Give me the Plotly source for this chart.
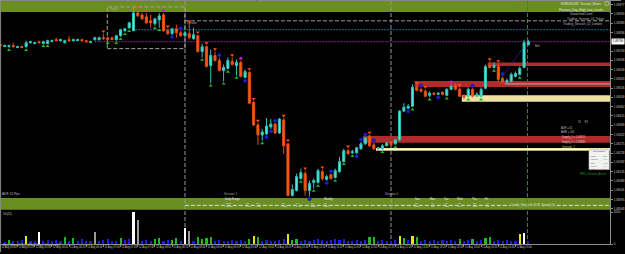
import plotly.graph_objects as go

W, H = 625, 254

# ---------------- data (MT4 points: price = points / 100000) ----------------
candle_idx = list(range(124))
open_pts = [
    109775, 109765, 109765, 109770, 109760, 109765, 109765, 109785, 109780, 109790,
    109780, 109780, 109790, 109800, 109795, 109785, 109800, 109795, 109795, 109800,
    109795, 109785, 109800, 109800, 109810, 109810, 109810, 109800, 109820, 109845,
    109860, 109845, 109935, 109925, 109915, 109895, 109880, 109900, 109925, 109845,
    109830, 109855, 109835, 109820, 109830, 109805, 109820, 109740, 109765, 109670,
    109720, 109695, 109645, 109655, 109690, 109670, 109685, 109610, 109635, 109485,
    109370, 109320, 109325, 109360, 109375, 109330, 109395, 109275, 109015, 109040,
    109100, 109125, 109040, 109080, 109080, 109135, 109095, 109120, 109105, 109135,
    109185, 109240, 109230, 109230, 109250, 109275, 109315, 109270, 109250, 109250,
    109265, 109285, 109275, 109295, 109440, 109455, 109465, 109560, 109550, 109540,
    109520, 109530, 109525, 109535, 109520, 109550, 109570, 109550, 109520, 109515,
    109550, 109515, 109515, 109555, 109670, 109660, 109665, 109605, 109585, 109590,
    109615, 109625, 109660, 109775]
high_pts = [
    109780, 109775, 109775, 109785, 109770, 109770, 109795, 109795, 109790, 109795,
    109795, 109800, 109800, 109810, 109805, 109800, 109820, 109805, 109805, 109805,
    109795, 109795, 109815, 109815, 109830, 109815, 109815, 109825, 109855, 109860,
    109890, 109965, 109955, 109935, 109935, 109925, 109910, 109935, 109935, 109855,
    109860, 109875, 109845, 109840, 109880, 109860, 109825, 109780, 109770, 109750,
    109740, 109710, 109675, 109710, 109710, 109700, 109695, 109650, 109640, 109490,
    109380, 109350, 109405, 109400, 109380, 109405, 109405, 109280, 109070, 109125,
    109150, 109140, 109090, 109100, 109150, 109145, 109120, 109125, 109150, 109210,
    109250, 109250, 109245, 109260, 109285, 109310, 109320, 109280, 109255, 109275,
    109285, 109290, 109300, 109445, 109480, 109475, 109575, 109570, 109555, 109550,
    109540, 109535, 109535, 109540, 109555, 109575, 109580, 109560, 109525, 109560,
    109555, 109535, 109560, 109675, 109690, 109685, 109680, 109615, 109605, 109635,
    109640, 109665, 109800, 109800]
low_pts = [
    109765, 109765, 109760, 109760, 109760, 109760, 109760, 109780, 109780, 109780,
    109780, 109780, 109790, 109795, 109790, 109780, 109790, 109790, 109795, 109790,
    109785, 109785, 109795, 109795, 109800, 109795, 109800, 109795, 109815, 109840,
    109855, 109845, 109915, 109900, 109880, 109860, 109870, 109860, 109840, 109825,
    109825, 109810, 109815, 109815, 109805, 109800, 109735, 109710, 109660, 109580,
    109690, 109640, 109590, 109650, 109670, 109620, 109610, 109605, 109475, 109365,
    109270, 109290, 109320, 109350, 109325, 109325, 109225, 109010, 109010, 109035,
    109095, 109015, 109010, 109050, 109075, 109090, 109090, 109095, 109100, 109130,
    109185, 109220, 109225, 109225, 109245, 109270, 109260, 109245, 109245, 109245,
    109265, 109265, 109270, 109290, 109435, 109450, 109460, 109540, 109535, 109510,
    109510, 109520, 109520, 109520, 109515, 109545, 109545, 109510, 109500, 109510,
    109510, 109510, 109510, 109550, 109655, 109655, 109590, 109580, 109580, 109585,
    109610, 109620, 109655, 109770]
close_pts = [
    109770, 109770, 109770, 109765, 109765, 109760, 109785, 109790, 109785, 109785,
    109790, 109795, 109795, 109795, 109800, 109795, 109795, 109800, 109800, 109795,
    109790, 109790, 109810, 109810, 109805, 109800, 109800, 109820, 109850, 109855,
    109885, 109935, 109920, 109905, 109885, 109885, 109905, 109920, 109845, 109830,
    109855, 109835, 109820, 109835, 109810, 109825, 109740, 109765, 109665, 109720,
    109695, 109645, 109660, 109695, 109675, 109685, 109615, 109640, 109480, 109370,
    109320, 109335, 109365, 109375, 109330, 109400, 109265, 109015, 109045, 109110,
    109130, 109040, 109075, 109090, 109140, 109100, 109110, 109100, 109140, 109185,
    109240, 109225, 109235, 109255, 109275, 109305, 109265, 109250, 109255, 109265,
    109280, 109270, 109295, 109440, 109460, 109465, 109560, 109545, 109540, 109515,
    109530, 109525, 109530, 109525, 109550, 109565, 109550, 109515, 109510, 109550,
    109515, 109525, 109550, 109665, 109660, 109670, 109600, 109585, 109595, 109625,
    109630, 109655, 109785, 109790]

volume = [
    300, 200, 400, 300, 300, 400, 800, 300, 300, 1200,
    300, 400, 300, 400, 300, 700, 300, 600, 300, 500,
    300, 300, 1200, 300, 400, 500, 300, 300, 600, 400,
    500, 3200, 2400, 300, 400, 300, 500, 600, 300, 400,
    400, 600, 300, 1600, 1300, 300, 700, 500, 600, 700,
    300, 400, 300, 300, 400, 300, 400, 300, 500, 800,
    700, 300, 400, 300, 300, 400, 500, 1000, 400, 500,
    300, 400, 300, 400, 500, 400, 300, 400, 500, 400,
    500, 300, 300, 400, 300, 400, 700, 700, 300, 400,
    300, 300, 400, 800, 600, 400, 800, 700, 300, 400,
    300, 400, 300, 400, 300, 400, 300, 500, 300, 400,
    500, 300, 400, 600, 700, 300, 400, 300, 400, 300,
    300, 1000, 1100, 300]
# b = normal, g = low volume, y = churn, w = climax, s = climax churn
volume_class = list("bbgbbbybbw" "bbbbbgbgbb" "bbsbbbbbgb" "bwsbbbggbb" "ggbwsbgggg"
                    "bbbbbbbbgy" "gbbbbbbygg" "bbbbbbbbbb" "bbbbbbggbb" "bbbygbygbb"
                    "bbbbbbbgbb" "gbbggbbbbb" "bywb")

time_tick_idx = [0, 4, 8, 12, 16, 20, 24, 28, 32, 36, 40, 44, 48, 52, 56, 60,
                 64, 68, 72, 76, 80, 84, 88, 92, 96, 100, 104, 108, 112, 116, 120]
time_tick_text = ["12 Aug 05:00", "12 Aug 05:20", "12 Aug 05:40", "12 Aug 06:00",
                  "12 Aug 06:20", "12 Aug 06:40", "12 Aug 07:00", "12 Aug 07:20",
                  "12 Aug 07:40", "12 Aug 08:00", "12 Aug 08:20", "12 Aug 08:40",
                  "12 Aug 09:00", "12 Aug 09:20", "12 Aug 09:40", "12 Aug 10:00",
                  "12 Aug 10:20", "12 Aug 10:40", "12 Aug 11:00", "12 Aug 11:20",
                  "12 Aug 11:40", "12 Aug 12:00", "12 Aug 12:20", "12 Aug 12:40",
                  "12 Aug 13:00", "12 Aug 13:20", "12 Aug 13:40", "12 Aug 14:00",
                  "12 Aug 14:20", "12 Aug 14:40", "12 Aug 15:00"]

# indicator marks (candle indices)
fractal_up_idx = [24, 32, 34, 39, 44, 46, 48, 50, 54, 58, 59, 60, 66, 67, 71, 75, 81, 86,
                  97, 99, 107, 114, 116]
fractal_dn_idx = [2, 6, 10, 11, 25, 27, 28, 29, 30, 36, 37, 47, 49, 52, 53, 55, 61, 70,
                  73, 74, 78, 80, 82, 89, 92, 96, 100, 104, 109, 112, 115, 121]
blue_up_idx = [42, 51, 64, 77, 84, 85, 87, 98, 110, 117]
blue_dn_idx = [40, 57, 62, 63, 72, 76, 83, 95, 102]
magenta_up_idx = [38, 56, 105]

# supply / demand zones
zone_top = [109685, 109592, 109520, 109315, 109254]
zone_bot = [109668, 109562, 109487, 109280, 109240]
zone_start = [113.5, 96.5, 107.5, 84.5, 87.5]
zone_kind = ["supply", "supply", "demand", "supply", "demand"]

# horizontal levels
level_pts = [109895, 109850, 109790]
level_start = [43, 30.7, 21.9]
level_color = ["#9a9a9a", "#17728f", "#8e1f8e"]
level_dash = ["4px,2px", "2px,1px", "2px,1px"]

session_box = dict(start=24.9, end=43, hi=109965, lo=109755)
session_lines = [43, 91]
now_line = 123
trend_idx = [117, 122]
trend_pts = [109615, 109765]
last_price_pts = 109790

# ---------------- helpers ----------------
PT = 1e-5
def pr(v):
    return v * PT

X_MIN, X_MAX = -0.093, 142.04
def px(x):
    return x / W
def py(y):
    return 1 - y / H

o = [pr(v) for v in open_pts]
h = [pr(v) for v in high_pts]
l = [pr(v) for v in low_pts]
c = [pr(v) for v in close_pts]

fig = go.Figure()

fig.add_trace(go.Candlestick(
    x=candle_idx, open=o, high=h, low=l, close=c,
    increasing=dict(line=dict(color="#33c2b8", width=1), fillcolor="#55e6dc"),
    decreasing=dict(line=dict(color="#e3500f", width=1), fillcolor="#ff5a14"),
    hoverinfo="skip", xaxis="x", yaxis="y"))

off = 0.00012
fig.add_trace(go.Scatter(x=fractal_up_idx, y=[h[i] + off for i in fractal_up_idx],
                         mode="markers", marker=dict(symbol="triangle-down", size=3.5, color="#ff4a1a"),
                         hoverinfo="skip"))
fig.add_trace(go.Scatter(x=fractal_dn_idx, y=[l[i] - off for i in fractal_dn_idx],
                         mode="markers", marker=dict(symbol="triangle-up", size=3.5, color="#22b822"),
                         hoverinfo="skip"))
fig.add_trace(go.Scatter(x=blue_up_idx + blue_dn_idx,
                         y=[h[i] + off for i in blue_up_idx] + [l[i] - off for i in blue_dn_idx],
                         mode="markers", marker=dict(symbol="circle", size=3.5, color="#2222dd",
                                                     line=dict(color="#0a0a90", width=0.6)),
                         hoverinfo="skip"))
fig.add_trace(go.Scatter(x=magenta_up_idx, y=[h[i] + off for i in magenta_up_idx],
                         mode="markers", marker=dict(symbol="circle", size=3, color="#d41ad4"),
                         hoverinfo="skip"))
fig.add_trace(go.Scatter(x=trend_idx, y=[pr(v) for v in trend_pts], mode="lines",
                         line=dict(color="#2a2aa8", width=1, dash="2px,1px"), hoverinfo="skip"))

vol_colors = {"b": "#1c1cf0", "g": "#1fb81f", "y": "#e6e600", "w": "#ffffff", "s": "#9a9a9a"}
fig.add_trace(go.Bar(x=candle_idx, y=volume, width=0.5,
                     marker=dict(color=[vol_colors[k] for k in volume_class], line=dict(width=0)),
                     xaxis="x2", yaxis="y2", hoverinfo="skip"))

# ---------------- shapes ----------------
shapes = []
OLIVE = "#6b8e23"
shapes.append(dict(type="rect", xref="paper", yref="paper", x0=0, x1=px(614), y0=py(12), y1=py(1),
                   fillcolor=OLIVE, line=dict(width=0), layer="below"))
shapes.append(dict(type="rect", xref="paper", yref="paper", x0=0, x1=px(614), y0=py(211.5), y1=py(199.5),
                   fillcolor=OLIVE, line=dict(width=0), layer="below"))
shapes.append(dict(type="line", xref="paper", yref="paper", x0=px(186), x1=px(614), y0=py(207), y1=py(207),
                   line=dict(color="#dedede", width=1, dash="4px,2px"), layer="below"))

for t, b_, s, k in zip(zone_top, zone_bot, zone_start, zone_kind):
    col = "#b02a2e" if k == "supply" else "#efe3a4"
    shapes.append(dict(type="rect", xref="x", yref="y", x0=s, x1=X_MAX, y0=pr(b_), y1=pr(t),
                       fillcolor=col, line=dict(width=0), layer="below"))
shapes.append(dict(type="line", xref="x", yref="y", x0=87.5, x1=X_MAX,
                   y0=pr((zone_top[4] + zone_bot[4]) / 2), y1=pr((zone_top[4] + zone_bot[4]) / 2),
                   line=dict(color="#fffbe6", width=1), layer="below"))
shapes.append(dict(type="line", xref="x", yref="y", x0=117.5, x1=X_MAX,
                   y0=pr((zone_top[1] + zone_bot[1]) / 2), y1=pr((zone_top[1] + zone_bot[1]) / 2),
                   line=dict(color="#b4b4b4", width=1), layer="below"))

for p, s, colr, d in zip(level_pts, level_start, level_color, level_dash):
    shapes.append(dict(type="line", xref="x", yref="y", x0=s, x1=X_MAX, y0=pr(p), y1=pr(p),
                       line=dict(color=colr, width=1, dash=d), layer="below"))

shapes.append(dict(type="rect", xref="x", yref="y", x0=session_box["start"], x1=session_box["end"],
                   y0=pr(session_box["lo"]), y1=pr(session_box["hi"]),
                   line=dict(color="#a0a0a0", width=1, dash="4px,2px"), fillcolor="rgba(0,0,0,0)",
                   layer="below"))
for v in session_lines:
    shapes.append(dict(type="line", xref="x", yref="paper", x0=v, x1=v, y0=py(247), y1=py(1),
                       line=dict(color="#9a9a9a", width=1, dash="4px,2px"), layer="below"))
shapes.append(dict(type="line", xref="x", yref="paper", x0=now_line - 0.2, x1=now_line - 0.2,
                   y0=py(247), y1=py(1), line=dict(color="#2e8b2e", width=1, dash="4px,2px"), layer="below"))

# borders
shapes.append(dict(type="line", xref="paper", yref="paper", x0=px(0.6), x1=px(0.6), y0=0, y1=1,
                   line=dict(color="#8a8a8a", width=1)))
shapes.append(dict(type="line", xref="paper", yref="paper", x0=0, x1=1, y0=py(0.5), y1=py(0.5),
                   line=dict(color="#8a8a8a", width=1)))
# pip tracker box + header icon
shapes.append(dict(type="rect", xref="paper", yref="paper", x0=px(592.7), x1=px(613.3), y0=py(171), y1=py(151),
                   fillcolor="#f2f2f2", line=dict(color="#9a9a9a", width=0.5), layer="above"))
shapes.append(dict(type="rect", xref="paper", yref="paper", x0=px(609), x1=px(612.6), y0=py(5.3), y1=py(1.8),
                   fillcolor="rgba(0,0,0,0)", line=dict(color="#d0d0d0", width=0.6), layer="above"))

# ---------------- texts ----------------
ann = []
FONT = "Liberation Sans, Arial, sans-serif"
def text(x, y, s, size=3.0, color="#bdbdbd", xanchor="left", **kw):
    ann.append(dict(x=px(x), y=py(y), xref="paper", yref="paper", text=s, showarrow=False,
                    xanchor=xanchor, yanchor="middle", borderpad=0,
                    font=dict(size=size, color=color, family=FONT), **kw))

text(607, 3.8, "EURUSD,M5  Session_Boxes", color="#e6e6e6", xanchor="right")
text(609, 10, "Previous_Day_High_Low_Levels", color="#e6e6e6", xanchor="right")
text(598, 14.6, "Untouched Level", xanchor="right")
text(609, 19.6, "Trading_Session_01_Tokyo", xanchor="right")
text(607, 24.2, "Trading_Session_02_London", xanchor="right")
text(110, 9.3, "Tokyo", color="#a8a8a8")
text(187, 22.8, "London", color="#a8a8a8")
text(537, 46.8, "Bid", color="#a8a8a8")

text(581, 123, "S1     R1", size=2.6)
text(564, 129, "ADR = 62", size=2.6)
text(564, 133.3, "AWR = 145", size=2.6)
text(565, 138.3, "Supply_1 = 1.09315", size=2.6, color="#e6cccc")
text(565, 142.7, "Supply_2 = 1.09280", size=2.6, color="#d6d6d6")
text(565, 148.3, "Demand_1", size=2.6)
text(603, 152.9, "Pip Tracker", size=2.4, color="#303030", xanchor="center")
for yy, lab, val, vc in zip([157.3, 160.7, 164, 167.3, 170],
                            ["Open", "Closed", "Day", "Week", "Total"],
                            ["+12.4", "+5.0", "+3.2", "-4.1", "-2.6"],
                            ["#1f9f1f", "#1f9f1f", "#3aa03a", "#e05050", "#e05050"]):
    text(594, yy, lab, size=2.2, color="#555555")
    text(612.5, yy, val, size=2.2, color=vc, xanchor="right")
text(583, 175, "PRO_Version_Active", size=2.8, color="#2a9a2a")

text(1.5, 196, "ADR: 62 Pips")
text(224, 195.3, "Session 1", color="#a8a8a8")
text(386, 195.3, "Session 2", color="#a8a8a8")

text(225, 201, "Daily Range", size=2.7, color="#ececec")
text(325, 201, "Weekly", size=2.7, color="#ececec")
for xx, d in zip([417, 432, 446, 459, 474, 487], ["Sun", "Mon", "Tue", "Wed", "Thu", "Fri"]):
    text(xx, 201, d, size=2.7, color="#ececec")
band_cols_x = [225, 247, 257, 283, 297, 312, 325, 417, 433, 447, 460, 475, 488]
band_top = ["48/36", "21", "33", "17", "29", "24", "31", "52", "47", "61", "39", "58", "44"]
band_bot = ["1.0931", "0.41", "0.55", "0.28", "0.47", "0.39", "0.50", "115", "98", "121", "87", "110", "92"]
for xx, a, b_ in zip(band_cols_x, band_top, band_bot):
    text(xx, 204.8, a, size=2.5, color="#e8e8e8")
    text(xx, 208.4, b_, size=2.5, color="#e8e8e8")
text(513, 207, "Candle_Time_Left  02:31  Spread_0.6", size=2.6, color="#ececec", bgcolor=OLIVE)

text(2, 215.3, "Vol(20)", size=2.8)
text(2, 246.6, "BetterVolume 1.5 (20,2000) Climax Churn LowVol", size=2.6)

# current price label
ann.append(dict(x=px(614.5), y=pr(last_price_pts), xref="paper", yref="y", text="1.09790",
                showarrow=False, xanchor="left", yanchor="middle", bgcolor="#ffffff", borderpad=0.4,
                font=dict(size=3, color="#000000", family=FONT)))

DOM_X = [0, 614 / W]
fig.update_layout(
    width=W, height=H, margin=dict(l=0, r=0, t=0, b=0),
    paper_bgcolor="#000000", plot_bgcolor="#000000", showlegend=False,
    shapes=shapes, annotations=ann,
    xaxis=dict(domain=DOM_X, range=[X_MIN, X_MAX], showticklabels=False, showgrid=False,
               zeroline=False, rangeslider=dict(visible=False), anchor="y", fixedrange=True),
    yaxis=dict(domain=[py(212), py(1)], range=[1.0894, 1.09995], side="right", anchor="x",
               tick0=1.099765, dtick=0.0004675, tickformat=".5f",
               tickfont=dict(size=3, color="#c4c4c4", family=FONT),
               showgrid=False, zeroline=False, showline=True, linecolor="#8c8c8c", linewidth=1,
               ticks="outside", ticklen=2, tickcolor="#8c8c8c", fixedrange=True),
    xaxis2=dict(domain=DOM_X, range=[X_MIN, X_MAX], anchor="y2", tickmode="array",
                tickvals=time_tick_idx, ticktext=time_tick_text, ticklabelposition="outside right",
                tickangle=0,
                tickfont=dict(size=2.6, color="#c4c4c4", family=FONT), ticks="outside", ticklen=2,
                tickcolor="#8c8c8c", showline=True, linecolor="#8c8c8c", showgrid=False,
                zeroline=False, fixedrange=True),
    yaxis2=dict(domain=[py(246), py(212)], range=[0, 3400], side="right", anchor="x2",
                tickmode="array", tickvals=[0, 3200], ticktext=["0", "3200"],
                tickfont=dict(size=3, color="#c4c4c4", family=FONT), showgrid=False,
                zeroline=False, showline=True, linecolor="#8c8c8c", ticks="outside", ticklen=2,
                tickcolor="#8c8c8c", fixedrange=True),
    bargap=0,
)

fig.write_html("out.html")
